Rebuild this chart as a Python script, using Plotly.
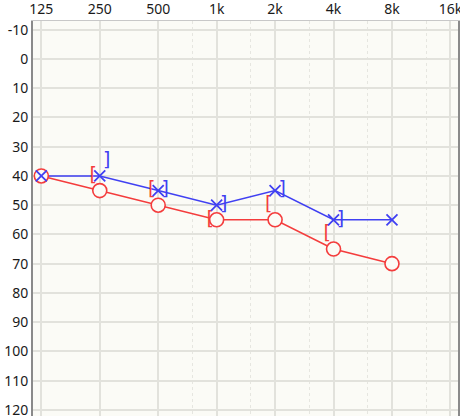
import plotly.graph_objects as go

# ---- data ----
freqs = [125, 250, 500, 1000, 2000, 4000, 8000]
right_ac = [40, 45, 50, 55, 55, 65, 70]      # red circles
left_ac = [40, 40, 45, 50, 45, 55, 55]       # blue crosses
bone_freqs = [250, 500, 1000, 2000, 4000]
right_bc = [40, 45, 55, 50, 60]              # red "["
left_bc = [35, 45, 50, 45, 55]               # blue "]"

x_ticks = [125, 250, 500, 1000, 2000, 4000, 8000, 16000]
x_ticktext = ["125", "250", "500", "1k", "2k", "4k", "8k", "16k"]
x_minor = [750, 1500, 3000, 6000, 12000]
y_ticks = list(range(-10, 130, 10))
y_ticktext = [str(v) for v in y_ticks]

RED = "#f43c3c"
BLUE = "#4040f2"
BG = "#fbfbf6"

fig = go.Figure()

# connecting lines
fig.add_trace(go.Scatter(x=freqs, y=left_ac, mode="lines",
                         line=dict(color=BLUE, width=1.6), hoverinfo="skip"))
fig.add_trace(go.Scatter(x=freqs, y=right_ac, mode="lines",
                         line=dict(color=RED, width=1.6), hoverinfo="skip"))

# bone conduction brackets
off_r = 2 ** (-0.11)
off_l = 2 ** (0.12)
fig.add_trace(go.Scatter(x=[f * off_r for f in bone_freqs], y=right_bc, mode="text",
                         text=["["] * len(bone_freqs), textposition="middle center",
                         textfont=dict(family="DejaVu Sans", size=19, color=RED)))
fig.add_trace(go.Scatter(x=[f * off_l for f in bone_freqs], y=left_bc, mode="text",
                         text=["]"] * len(bone_freqs), textposition="middle center",
                         textfont=dict(family="DejaVu Sans", size=19, color=BLUE)))

# markers
fig.add_trace(go.Scatter(x=freqs, y=right_ac, mode="markers",
                         marker=dict(symbol="circle", size=14, color=BG,
                                     line=dict(color=RED, width=1.6))))
fig.add_trace(go.Scatter(x=freqs, y=left_ac, mode="markers",
                         marker=dict(symbol="x-thin", size=11, color=BLUE,
                                     line=dict(color=BLUE, width=1.8))))

fig.add_hline(y=0, line=dict(color="#7a7a7a", width=1, dash="dot"), layer="below")

fig.update_layout(
    width=460, height=416,
    margin=dict(l=33, r=2, t=21, b=0),
    paper_bgcolor="white", plot_bgcolor=BG,
    showlegend=False,
    font=dict(family="Noto Sans", size=14, color="#1a1a1a"),
)
fig.update_xaxes(
    type="log", side="top", range=[2.0541, 4.2432], automargin=False,
    tickmode="array", tickvals=x_ticks, ticktext=x_ticktext,
    ticklabeloverflow="allow",
    showgrid=True, gridcolor="#e2e2dc", gridwidth=1.5,
    minor=dict(tickmode="array", tickvals=x_minor, showgrid=True,
               gridcolor="#e6e6e0", griddash="dot", gridwidth=1),
    showline=True, linecolor="#c8c8c8", linewidth=1,
    ticks="", zeroline=False,
)
fig.update_yaxes(
    range=[122.1, -13], automargin=False, tickmode="array",
    tickvals=y_ticks, ticktext=y_ticktext,
    ticklabeloverflow="allow",
    showgrid=True, gridcolor="#e2e2dc", gridwidth=1.5,
    showline=True, linecolor="#8a8a8a", linewidth=2, mirror=True,
    ticks="", zeroline=False,
)

fig.write_html("out.html", config={"displayModeBar": False},
               post_script="document.body.style.margin='0px';document.body.style.padding='0px';")
